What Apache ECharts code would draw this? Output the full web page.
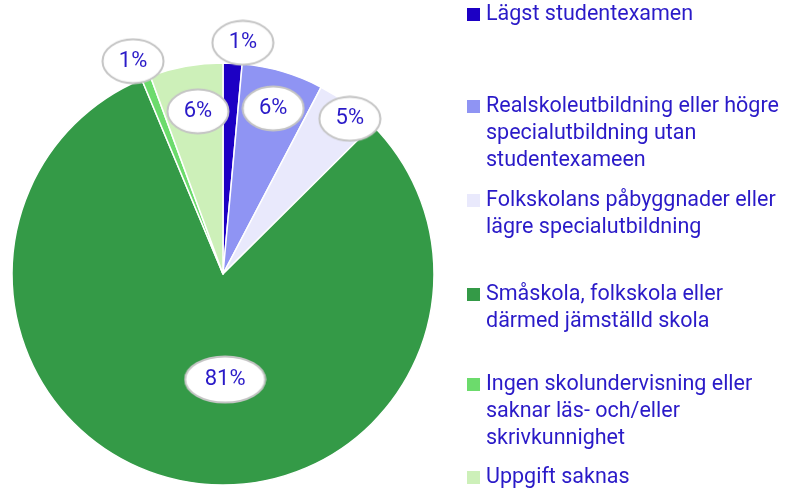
<!DOCTYPE html>
<html>
<head>
<meta charset="utf-8">
<script src="https://cdn.jsdelivr.net/npm/echarts@6/dist/echarts.min.js"></script>
<style>
    html, body { margin: 0; padding: 0; background: #fff; }
    #chart { width: 791px; height: 496px; }
</style>
</head>
<body>
<div id="chart"></div>
<script>
    // data
    var categories = [
        'Lägst studentexamen',
        'Realskoleutbildning eller högre\nspecialutbildning utan\nstudentexameen',
        'Folkskolans påbyggnader eller\nlägre specialutbildning',
        'Småskola, folkskola eller\ndärmed jämställd skola',
        'Ingen skolundervisning eller\nsaknar läs- och/eller\nskrivkunnighet',
        'Uppgift saknas'
    ];
    var shares = [1.45, 6.25, 4.85, 81.15, 0.7, 5.6];
    var colors = ['#1c00c4', '#8f94f3', '#e9e9fc', '#349a47', '#6cdb6c', '#cdf0b9'];
    // where each percent bubble sits: distance as share of radius, turn in degrees from slice middle
    var labelDist = [1.10, 0.82, 0.95, 0.50, 1.095, 0.78];
    var labelTurn = [2.3, 0.4, 2.8, -12.4, -1.5, 1.3];

    var textColor = '#2a1ac8';
    var cx = 223, cy = 274, radius = 211;

    // ellipse bubble used behind the percent labels
    function bubble(w, h) {
        var c = document.createElement('canvas');
        c.width = w;
        c.height = h;
        var ctx = c.getContext('2d');
        ctx.beginPath();
        ctx.ellipse(w / 2, h / 2, w / 2 - 1.5, h / 2 - 1.5, 0, 0, Math.PI * 2);
        ctx.fillStyle = '#fff';
        ctx.fill();
        ctx.lineWidth = 2;
        ctx.strokeStyle = '#c4c4c4';
        ctx.stroke();
        return c;
    }

    var total = shares.reduce(function (a, b) { return a + b; }, 0);
    // middle angle of each slice, clockwise from 12 o'clock
    var midAngles = [];
    var acc = 0;
    shares.forEach(function (v) {
        midAngles.push((acc + v / 2) / total * 360);
        acc += v;
    });

    var chart = echarts.init(document.getElementById('chart'));

    var pieData = categories.map(function (name, i) {
        return {name: name, value: shares[i], itemStyle: {color: colors[i]}};
    });

    // one legend per item, line centres spread evenly down the right side
    var lineCenters = [17, 109, 203, 297, 387, 480];
    var legends = categories.map(function (name, i) {
        var rich = {
            sq: {width: 13, height: 13, backgroundColor: colors[i], lineHeight: 27},
            gap: {width: 6, lineHeight: 27},
            ind: {width: 19, lineHeight: 27},
            t: {color: textColor, fontSize: 21.5, fontFamily: 'Roboto', lineHeight: 27}
        };
        return {
            data: [name],
            left: 461,
            top: lineCenters[i] - 13.5,
            padding: 0,
            itemWidth: 0,
            itemHeight: 0,
            itemGap: 0,
            selectedMode: false,
            textStyle: {rich: rich},
            formatter: function (n) {
                return n.split('\n').map(function (line, k) {
                    return (k === 0 ? '{sq|}{gap|}' : '{ind|}') + '{t|' + line + '}';
                }).join('\n');
            }
        };
    });

    var bubbleText = {color: textColor, fontSize: 22, fontFamily: 'Roboto', align: 'center'};
    var option = {
        animation: false,
        backgroundColor: '#fff',
        legend: legends,
        series: [
            {
                type: 'pie',
                center: [cx, cy],
                radius: radius,
                startAngle: 90,
                clockwise: true,
                itemStyle: {borderColor: '#fff', borderWidth: 1.5},
                label: {
                    position: 'inside',
                    padding: 0,
                    formatter: function (p) {
                        var key = p.value > 50 ? 'g' : 's';
                        return '{' + key + '|' + Math.round(p.value / total * 100) + '%}';
                    },
                    rich: {
                        s: Object.assign({width: 64, height: 47, lineHeight: 47,
                            backgroundColor: {image: bubble(64, 47)}}, bubbleText),
                        g: Object.assign({width: 83, height: 49, lineHeight: 49,
                            backgroundColor: {image: bubble(83, 49)}}, bubbleText)
                    }
                },
                labelLine: {show: false},
                labelLayout: function (p) {
                    var i = p.dataIndex;
                    var a = (midAngles[i] + labelTurn[i]) * Math.PI / 180;
                    var d = labelDist[i] * radius;
                    return {
                        x: cx + d * Math.sin(a),
                        y: cy - d * Math.cos(a),
                        align: 'center',
                        verticalAlign: 'middle'
                    };
                },
                emphasis: {disabled: true},
                data: pieData
            }
        ]
    };

    chart.setOption(option);
</script>
</body>
</html>
